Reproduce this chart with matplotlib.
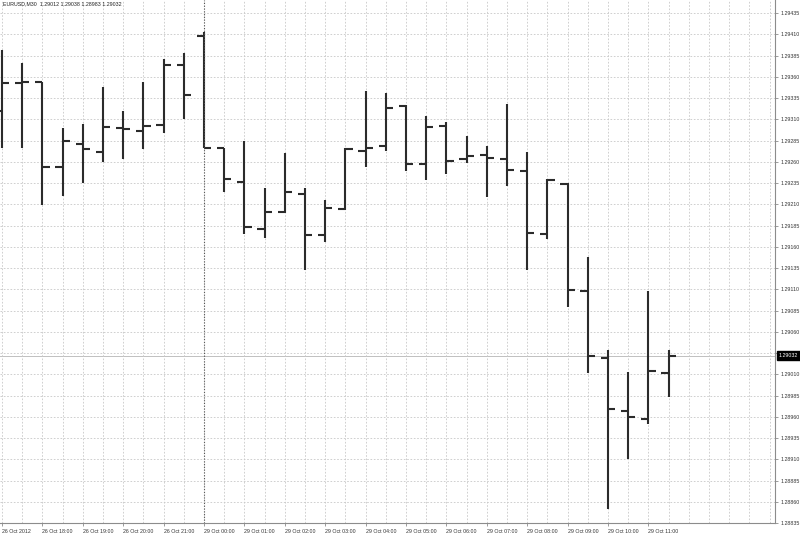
import numpy as np
import matplotlib.pyplot as plt
from matplotlib.ticker import FixedLocator

# EURUSD M30 bars, 26 Oct 17:00 .. 29 Oct 11:30
symbol = "EURUSD,M30"
opens = [1.29320, 1.29353, 1.29354, 1.29254, 1.29281, 1.29272, 1.29300, 1.29296, 1.29303, 1.29374,
         1.29408, 1.29276, 1.29236, 1.29181, 1.29201, 1.29222, 1.29174, 1.29204, 1.29273, 1.29278,
         1.29326, 1.29257, 1.29302, 1.29263, 1.29268, 1.29263, 1.29249, 1.29175, 1.29234, 1.29108,
         1.29029, 1.28967, 1.28957, 1.29012]
highs = [1.29391, 1.29376, 1.29354, 1.29300, 1.29304, 1.29348, 1.29320, 1.29354, 1.29381, 1.29388,
         1.29413, 1.29276, 1.29284, 1.29229, 1.29270, 1.29229, 1.29215, 1.29276, 1.29343, 1.29341,
         1.29327, 1.29314, 1.29307, 1.29290, 1.29278, 1.29328, 1.29272, 1.29240, 1.29235, 1.29148,
         1.29039, 1.29013, 1.29108, 1.29038]
lows = [1.29276, 1.29276, 1.29209, 1.29220, 1.29235, 1.29260, 1.29263, 1.29275, 1.29294, 1.29310,
        1.29276, 1.29224, 1.29175, 1.29170, 1.29200, 1.29133, 1.29166, 1.29203, 1.29254, 1.29273,
        1.29249, 1.29238, 1.29246, 1.29258, 1.29219, 1.29231, 1.29133, 1.29169, 1.29089, 1.29011,
        1.28852, 1.28910, 1.28951, 1.28983]
closes = [1.29353, 1.29354, 1.29254, 1.29284, 1.29275, 1.29301, 1.29298, 1.29302, 1.29374, 1.29339,
          1.29276, 1.29240, 1.29183, 1.29201, 1.29224, 1.29174, 1.29206, 1.29275, 1.29276, 1.29323,
          1.29257, 1.29301, 1.29261, 1.29267, 1.29264, 1.29250, 1.29176, 1.29238, 1.29109, 1.29032,
          1.28969, 1.28960, 1.29014, 1.29032]

time_labels = ["26 Oct 2012", "26 Oct 18:00", "26 Oct 19:00", "26 Oct 20:00", "26 Oct 21:00",
               "29 Oct 00:00", "29 Oct 01:00", "29 Oct 02:00", "29 Oct 03:00", "29 Oct 04:00",
               "29 Oct 05:00", "29 Oct 06:00", "29 Oct 07:00", "29 Oct 08:00", "29 Oct 09:00",
               "29 Oct 10:00", "29 Oct 11:00"]
price_ticks = [1.29435, 1.29410, 1.29385, 1.29360, 1.29335, 1.29310, 1.29285, 1.29260, 1.29235,
               1.29210, 1.29185, 1.29160, 1.29135, 1.29110, 1.29085, 1.29060, 1.29035, 1.29010,
               1.28985, 1.28960, 1.28935, 1.28910, 1.28885, 1.28860, 1.28835]
bid = 1.29032
day_break = 10  # index of the first bar of 29 Oct

bar_color = '#2b2b2b'
grid_color = '#c8c8c8'
axis_color = '#8c8c8c'
label_font = dict(fontsize=3.8, family='Liberation Sans', color='#333333')

fig = plt.figure(figsize=(8, 5.36), dpi=100)
ax = fig.add_axes([0, 1 - 523 / 536, 775 / 800, 523 / 536])

x = np.arange(len(opens))
ax.vlines(x, lows, highs, color=bar_color, lw=1.5)
ax.hlines(opens, x - 0.36, x, color=bar_color, lw=1.5)
ax.hlines(closes, x, x + 0.36, color=bar_color, lw=1.5)

ax.set_xlim(-0.1, 38.27)
ax.set_ylim(1.28835, 1.294503)

# grid: one vertical line per bar, horizontal at each price label
ax.xaxis.set_minor_locator(FixedLocator(np.arange(0, 39)))
ax.grid(True, which='both', axis='x', color=grid_color, ls=(0, (2, 2)), lw=0.6)
ax.grid(True, which='major', axis='y', color=grid_color, ls=(0, (2, 2)), lw=0.6)
ax.set_axisbelow(True)

ax.axvline(day_break, color='#555555', ls=(0, (1, 1.5)), lw=0.8)
ax.axhline(bid, color='#c0c0c0', lw=0.7, zorder=0.5)

# x axis
ax.set_xticks(np.arange(0, 2 * len(time_labels), 2))
ax.set_xticklabels(time_labels, ha='left', **label_font)
ax.tick_params(axis='x', which='major', length=2.5, width=0.6, color=axis_color, pad=1.5)
ax.tick_params(axis='x', which='minor', length=0)

# y axis on the right
ax.yaxis.tick_right()
ax.set_yticks(price_ticks)
ax.set_yticklabels(["" if abs(p - 1.29035) < 1e-7 else f"{p:.5f}" for p in price_ticks],
                   **label_font)
ax.tick_params(axis='y', length=2.5, width=0.6, color=axis_color, pad=1.5)

for side in ['top', 'left']:
    ax.spines[side].set_visible(False)
for side in ['right', 'bottom']:
    ax.spines[side].set_color(axis_color)
    ax.spines[side].set_linewidth(0.8)

# current price box
ax.text(1.0045, bid, f"{bid:.5f}", transform=ax.get_yaxis_transform(), fontsize=3.8,
        family='Liberation Sans', color='white', va='center', ha='left', clip_on=False,
        bbox=dict(boxstyle='square,pad=0.35', fc='black', ec='black'))

ax.text(0.004, 0.997, f"{symbol}  {opens[-1]:.5f} {highs[-1]:.5f} {lows[-1]:.5f} {closes[-1]:.5f}",
        transform=ax.transAxes, fontsize=3.8, family='Liberation Sans', va='top', ha='left',
        color='#222222')

fig.savefig('out.png', dpi=100, facecolor='white')
